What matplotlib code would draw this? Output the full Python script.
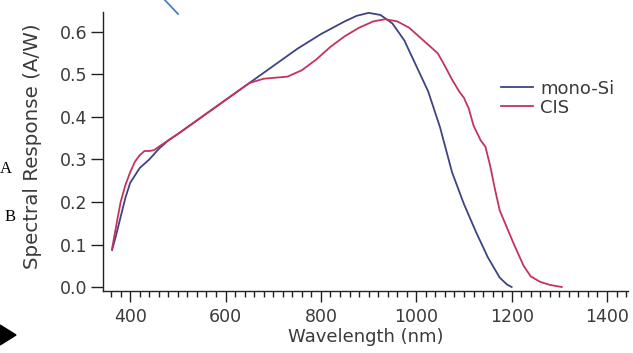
import matplotlib
matplotlib.use('Agg')
import matplotlib.pyplot as plt
from matplotlib.ticker import MultipleLocator
from matplotlib.lines import Line2D
from matplotlib.patches import Polygon

# spectral response
mono_wl = [362, 370, 380, 390, 400, 420, 440, 460, 480, 500, 550, 600, 650, 700,
           750, 800, 850, 875, 900, 925, 950, 975, 1000, 1025, 1050, 1075, 1100,
           1125, 1150, 1175, 1190, 1200]
mono_sr = [0.087, 0.12, 0.165, 0.21, 0.245, 0.28, 0.30, 0.325, 0.345, 0.36, 0.40,
           0.44, 0.48, 0.52, 0.56, 0.595, 0.625, 0.638, 0.645, 0.64, 0.62, 0.58,
           0.52, 0.46, 0.375, 0.27, 0.195, 0.13, 0.07, 0.022, 0.006, 0.0]

cis_wl = [362, 370, 380, 390, 400, 410, 420, 430, 440, 450, 460, 480, 500, 550,
          600, 650, 680, 700, 730, 760, 790, 820, 850, 880, 910, 935, 960, 985,
          1010, 1030, 1045, 1060, 1075, 1090, 1100, 1110, 1120, 1135, 1145, 1155,
          1165, 1175, 1190, 1205, 1215, 1225, 1240, 1260, 1280, 1305]
cis_sr = [0.09, 0.14, 0.2, 0.24, 0.27, 0.295, 0.31, 0.32, 0.32, 0.322, 0.33,
          0.345, 0.36, 0.40, 0.44, 0.48, 0.49, 0.492, 0.495, 0.51, 0.535, 0.565,
          0.59, 0.61, 0.625, 0.63, 0.625, 0.61, 0.585, 0.565, 0.55, 0.52, 0.488,
          0.46, 0.445, 0.42, 0.38, 0.345, 0.33, 0.285, 0.23, 0.18, 0.14, 0.1,
          0.075, 0.05, 0.025, 0.012, 0.005, 0.0]

x_ticks = [400, 600, 800, 1000, 1200, 1400]
y_ticks = [0.0, 0.1, 0.2, 0.3, 0.4, 0.5, 0.6]

W, H = 633, 353
fig = plt.figure(figsize=(W / 100, H / 100), dpi=100)
ax = fig.add_axes([103 / W, 1 - 291 / H, 525 / W, 279 / H])

ax.plot(mono_wl, mono_sr, color='#3f4384', lw=1.3, label='mono-Si')
ax.plot(cis_wl, cis_sr, color='#c5325c', lw=1.3, label='CIS')

ax.set_xlim(343, 1444)
ax.set_ylim(-0.0094, 0.647)
ax.set_xticks(x_ticks)
ax.set_yticks(y_ticks)
ax.set_yticklabels(['%.1f' % v for v in y_ticks])
ax.xaxis.set_minor_locator(MultipleLocator(20))

for s in ['top', 'right']:
    ax.spines[s].set_visible(False)
for s in ['left', 'bottom']:
    ax.spines[s].set_color('#222222')
    ax.spines[s].set_linewidth(1.0)

ax.tick_params(axis='y', which='major', length=9, width=1, pad=2,
               labelsize=12.5, labelcolor='#3a3a3a', color='#222222')
ax.tick_params(axis='x', which='major', length=8, width=1, pad=4,
               labelsize=12.5, labelcolor='#3a3a3a', color='#222222')
ax.tick_params(axis='x', which='minor', length=4, width=1, color='#222222')

ax.set_xlabel('Wavelength (nm)', fontsize=13, color='#3a3a3a', labelpad=2)
ax.set_ylabel('Spectral Response (A/W)', fontsize=14.3, color='#3a3a3a')
ax.yaxis.set_label_coords(-0.116, 0.52)

ax.legend(loc='upper left', bbox_to_anchor=(0.74, 0.79), frameon=False,
          fontsize=13, handlelength=1.8, handletextpad=0.4, labelspacing=0.05,
          borderpad=0, labelcolor='#3a3a3a')

# stray marks on the reference image
fig.add_artist(Line2D([163 / W, 178 / W], [1 + 2 / H, 1 - 14 / H],
                      transform=fig.transFigure, color='#4a7fc1', lw=1.3))
fig.text(6 / W, 1 - 169 / H, 'A', family='Liberation Serif', fontsize=12,
         ha='center', va='center')
fig.text(10 / W, 1 - 217 / H, 'B', family='Liberation Serif', fontsize=12,
         ha='center', va='center')
fig.add_artist(Polygon([[0, 1 - 325 / H], [16 / W, 1 - 335 / H], [0, 1 - 345 / H]],
                       closed=True, transform=fig.transFigure, color='black'))

fig.savefig('out.png', dpi=100)
